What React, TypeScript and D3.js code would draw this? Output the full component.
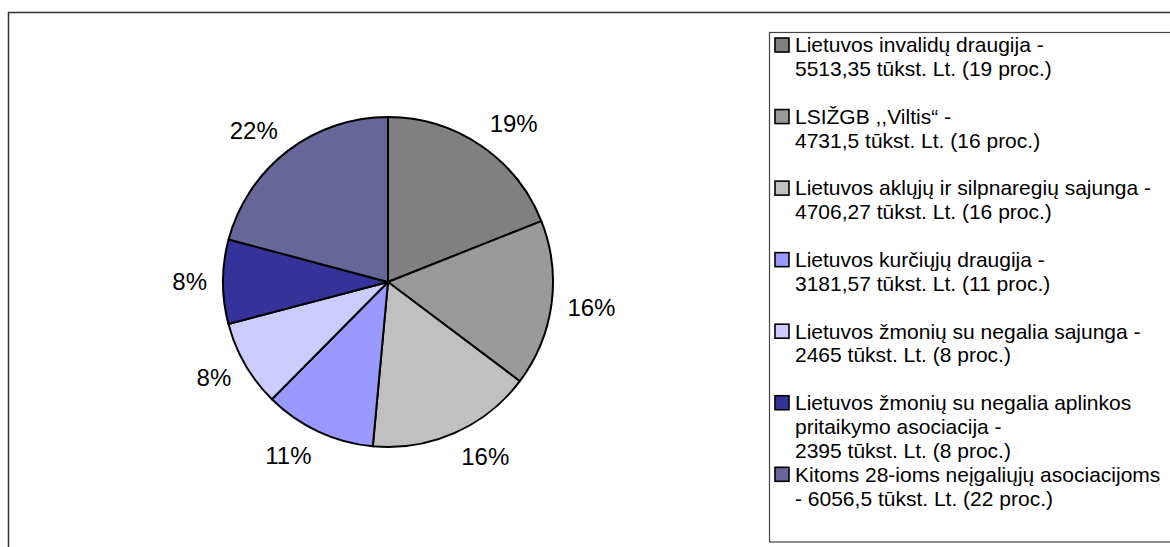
import React from "react";
import * as d3 from "d3";

// values in thousands Lt
const values = [5513.35, 4731.5, 4706.27, 3181.57, 2465, 2395, 6056.5];
const pctLabels = ["19%", "16%", "16%", "11%", "8%", "8%", "22%"];
const colors = ["#808080", "#999999", "#c0c0c0", "#9999ff", "#ccccff", "#333399", "#666699"];
const legendLines = [
  ["Lietuvos invalidų draugija -", "5513,35 tūkst. Lt. (19 proc.)"],
  ["LSIŽGB ,,Viltis“ -", "4731,5 tūkst. Lt. (16 proc.)"],
  ["Lietuvos aklųjų ir silpnaregių sajunga -", "4706,27 tūkst. Lt. (16 proc.)"],
  ["Lietuvos kurčiųjų draugija -", "3181,57 tūkst. Lt. (11 proc.)"],
  ["Lietuvos žmonių su negalia sajunga -", "2465 tūkst. Lt. (8 proc.)"],
  ["Lietuvos žmonių su negalia aplinkos", "pritaikymo asociacija -", "2395 tūkst. Lt. (8 proc.)"],
  ["Kitoms 28-ioms neįgaliųjų asociacijoms", "- 6056,5 tūkst. Lt. (22 proc.)"],
];

const W = 1170;
const H = 547;
const cx = 388;
const cy = 282;
const r = 165;
const font = "Arial, 'Liberation Sans', sans-serif";

export default function App() {
  const arcs = d3.pie<number>().sort(null).value((d) => d)(values);
  const arc = d3.arc<d3.PieArcDatum<number>>().innerRadius(0).outerRadius(r);
  const labelR = r + 16;

  // legend layout: every entry takes at least 3 lines
  const legX = 769;
  const legY = 32;
  const lineH = 23.85;
  let cursor = 45;
  const legendItems = legendLines.map((lines, i) => {
    const y0 = cursor;
    cursor += Math.max(lines.length, 3) * lineH;
    return { lines, y0, i };
  });

  return (
    <svg
      width={W}
      height={H}
      style={{ position: "fixed", left: 0, top: 0, display: "block", background: "#fff" }}
      fontFamily={font}
    >
      <rect x={8.5} y={12.5} width={W + 20} height={H + 20} fill="#fff" stroke="#333" strokeWidth={1.5} />

      <g transform={`translate(${cx},${cy})`}>
        {arcs.map((a, i) => (
          <path key={i} d={arc(a) || ""} fill={colors[i]} stroke="#000" strokeWidth={2} strokeLinejoin="round" />
        ))}
        {arcs.map((a, i) => {
          const mid = (a.startAngle + a.endAngle) / 2;
          const s = Math.sin(mid);
          const c = Math.cos(mid);
          return (
            <text
              key={i}
              x={labelR * s}
              y={-labelR * c - c * 10}
              dy="0.35em"
              textAnchor={s >= 0 ? "start" : "end"}
              fontSize={24}
              fill="#000"
            >
              {pctLabels[i]}
            </text>
          );
        })}
      </g>

      <rect x={legX + 0.5} y={legY + 0.5} width={W} height={541.5 - legY} fill="#fff" stroke="#444" strokeWidth={1.2} />
      {legendItems.map(({ lines, y0, i }) => (
        <g key={i}>
          <rect x={775} y={y0 - 7} width={14} height={14} fill={colors[i]} stroke="#000" strokeWidth={1.6} />
          {lines.map((t, j) => (
            <text key={j} x={795} y={y0 + j * lineH} dy="0.35em" fontSize={21} fill="#000">
              {t}
            </text>
          ))}
        </g>
      ))}
    </svg>
  );
}
